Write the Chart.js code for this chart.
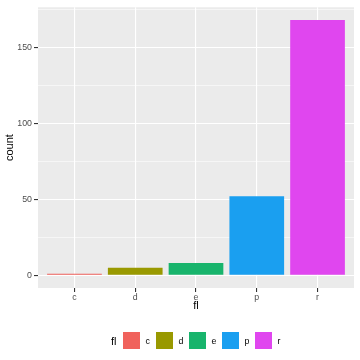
<!DOCTYPE html>
<html>
<head>
<meta charset="utf-8">
<script src="https://cdn.jsdelivr.net/npm/chart.js@4"></script>
<style>
  body { margin: 0; background: #fff; }
  #wrap { position: relative; width: 360px; height: 360px; }
  #legend { position: absolute; left: 111px; top: 332px; display: flex; align-items: center;
            font-family: "Liberation Sans", Arial, sans-serif; color: #000; }
  #legend .ttl { font-size: 11px; width: 12px; }
  #legend .box { width: 17px; height: 17px; }
  #legend .lab { font-size: 8.8px; width: 10.5px; margin-left: 5.5px; color: #000; }
</style>
</head>
<body>
<div id="wrap">
  <canvas id="mycanvas" width="360" height="360"></canvas>
  <div id="legend"></div>
</div>
<script>
var categories = ["c", "d", "e", "p", "r"];
var counts = [1, 5, 8, 52, 168];
var colors = ["#F0625C", "#999900", "#18B46C", "#1A9FF0", "#E046EF"];
var yTicks = [0, 25, 50, 75, 100, 125, 150, 175];

var points = [];
for (var i in categories) {
    points.push({ x: Number(i) + 1, y: counts[i] });
}

// html legend
var leg = document.getElementById("legend");
var t = document.createElement("span");
t.className = "ttl"; t.textContent = "fl";
leg.appendChild(t);
for (var i in categories) {
    var b = document.createElement("span");
    b.className = "box"; b.style.background = colors[i];
    leg.appendChild(b);
    var l = document.createElement("span");
    l.className = "lab"; l.textContent = categories[i];
    leg.appendChild(l);
}

var panelBg = {
    id: "panelBg",
    beforeDraw: function (chart) {
        var a = chart.chartArea, c = chart.ctx;
        c.save();
        c.fillStyle = "#ebebeb";
        c.fillRect(a.left, a.top, a.right - a.left, a.bottom - a.top);
        c.restore();
    }
};

var font = "'Liberation Sans', Arial, sans-serif";

new Chart(document.getElementById("mycanvas"), {
    type: "bar",
    data: {
        datasets: [{
            label: "fl",
            data: points,
            backgroundColor: colors,
            borderWidth: 0,
            categoryPercentage: 0.9,
            barPercentage: 1
        }]
    },
    options: {
        responsive: false,
        animation: false,
        layout: { padding: { left: 0, top: 5, right: 6, bottom: 47 } },
        plugins: { legend: { display: false }, tooltip: { enabled: false } },
        scales: {
            x: {
                type: "linear",
                min: 0.4,
                max: 5.6,
                offset: false,
                afterBuildTicks: function (s) {
                    s.ticks = categories.map(function (c, i) { return { value: i + 1 }; });
                },
                afterFit: function (s) { s.height = 25; },
                border: { display: false },
                grid: { offset: false, color: "#ffffff", lineWidth: 1.1, tickColor: "#333333", tickLength: 4 },
                ticks: {
                    padding: 0,
                    color: "#4d4d4d",
                    font: { family: font, size: 8.8 },
                    maxRotation: 0,
                    callback: function (v) { return categories[v - 1]; }
                },
                title: { display: true, text: "fl", color: "#000", font: { family: font, size: 11 }, padding: 0 }
            },
            y: {
                min: -8.4,
                max: 176.4,
                afterBuildTicks: function (s) {
                    s.ticks = yTicks.map(function (v) { return { value: v }; });
                },
                afterFit: function (s) { s.width = 38; },
                border: { display: false },
                grid: {
                    color: "#ffffff",
                    lineWidth: function (c) { return c.tick && c.tick.value % 50 === 0 ? 1.1 : 0.55; },
                    tickColor: function (c) { return c.tick && c.tick.value % 50 === 0 ? "#333333" : "rgba(0,0,0,0)"; },
                    tickLength: 4
                },
                ticks: {
                    padding: 2,
                    color: "#4d4d4d",
                    font: { family: font, size: 8.8 },
                    callback: function (v) { return v % 50 === 0 ? v : ""; }
                },
                title: { display: true, text: "count", color: "#000", font: { family: font, size: 11 }, padding: { top: 3, bottom: 0 } }
            }
        }
    },
    plugins: [panelBg]
});
</script>
</body>
</html>
